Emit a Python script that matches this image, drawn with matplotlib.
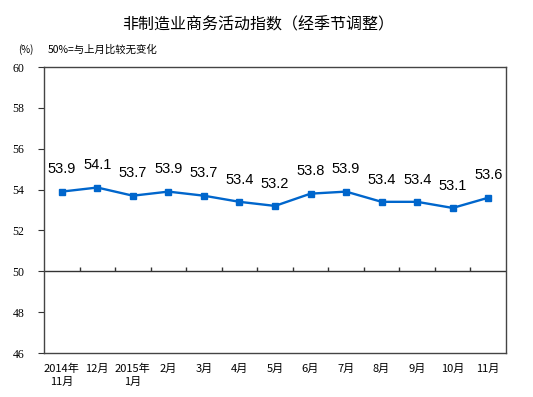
import matplotlib
matplotlib.use("Agg")
import matplotlib.pyplot as plt

plt.rcParams['font.family'] = ['Noto Sans CJK SC', 'DejaVu Sans']

months = ["2014年\n11月", "12月", "2015年\n1月", "2月", "3月", "4月", "5月",
          "6月", "7月", "8月", "9月", "10月", "11月"]
values = [53.9, 54.1, 53.7, 53.9, 53.7, 53.4, 53.2, 53.8, 53.9, 53.4, 53.4, 53.1, 53.6]
yticks = [46, 48, 50, 52, 54, 56, 58, 60]

fig = plt.figure(figsize=(5.33, 3.97), dpi=100)
ax = fig.add_axes([44 / 533, 1 - 353 / 397, 462 / 533, 286 / 397])

x = list(range(len(values)))
ax.plot(x, values, color="#0066CC", linewidth=1.7, marker="s", markersize=4.5)
for xi, v in zip(x, values):
    ax.annotate(f"{v:.1f}", (xi, v), xytext=(0, 11), textcoords="offset points",
                ha="center", va="bottom", fontsize=10.5, family="Liberation Sans")

ax.set_xlim(-0.5, len(values) - 0.5)
ax.set_ylim(46, 60)

# 50 line with category boundary ticks
ax.axhline(50, color="#333333", linewidth=1)
ax.vlines([i + 0.5 for i in range(len(values) - 1)], 50, 50.22, color="#333333", linewidth=1)

ax.set_yticks(yticks)
ax.set_yticklabels([str(t) for t in yticks], family="Liberation Serif", fontsize=8.5)
ax.tick_params(axis="y", direction="out", length=4, color="#333333", pad=10)
ax.set_xticks(x)
ax.set_xticklabels(months, fontsize=8, linespacing=1.3)
ax.tick_params(axis="x", length=0, pad=8)

for s in ax.spines.values():
    s.set_color("#444444")
    s.set_linewidth(1)

fig.text(258 / 533, 1 - 25 / 397, "非制造业商务活动指数（经季节调整）", ha="center", va="center",
         fontsize=11.5, fontweight="medium")
fig.text(18 / 533, 1 - 50 / 397, "(%)", ha="left", va="center", fontsize=7)
fig.text(48 / 533, 1 - 50 / 397, "50%=与上月比较无变化", ha="left", va="center", fontsize=7.5)

fig.savefig("out.png", dpi=100)
